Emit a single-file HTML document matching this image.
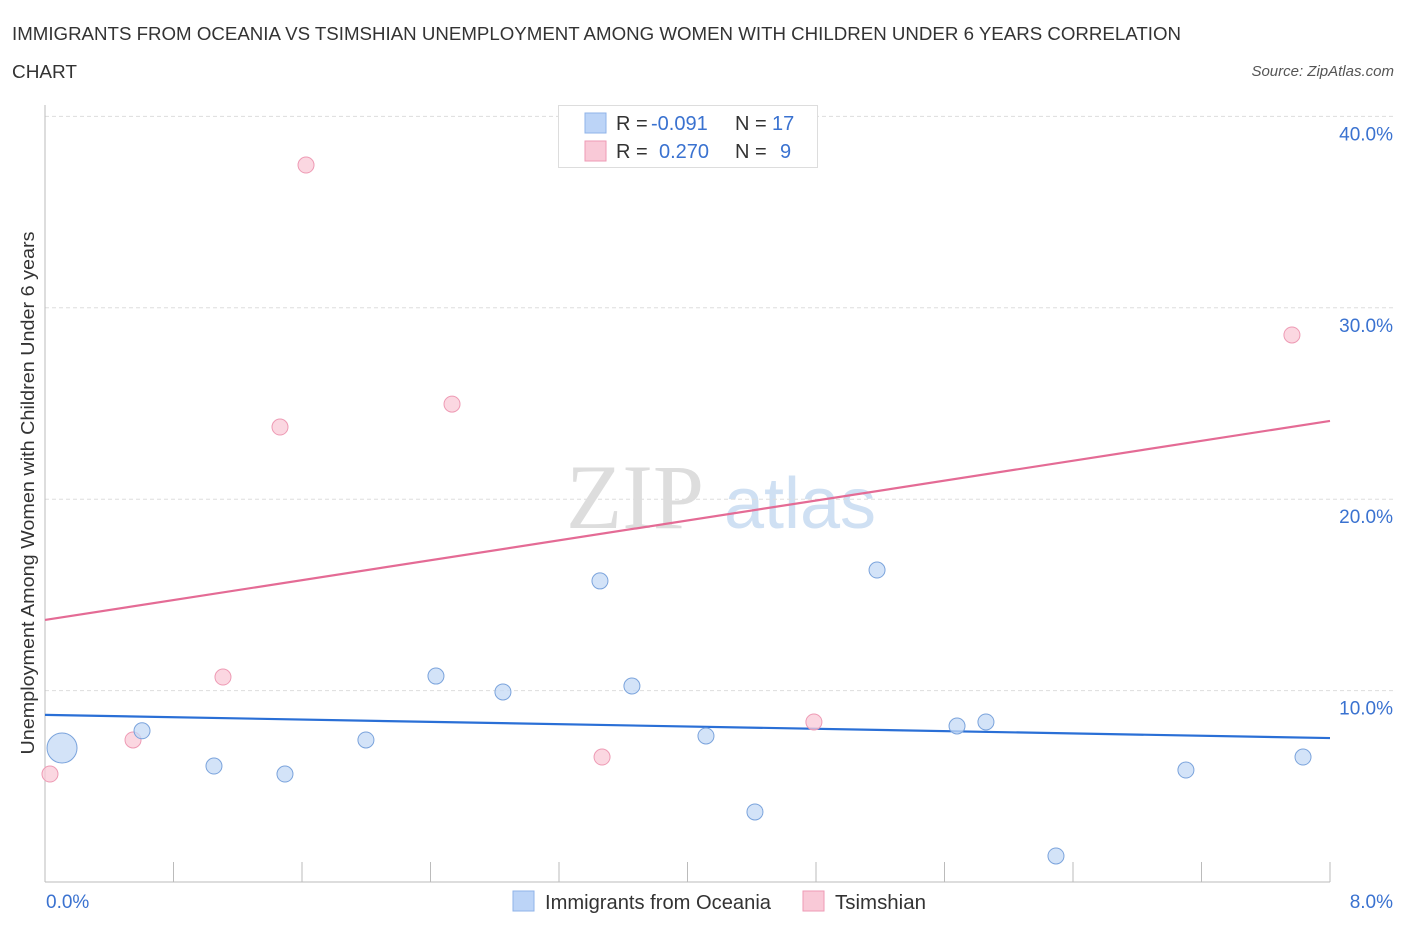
<!DOCTYPE html>
<html><head><meta charset="utf-8"><style>
body{margin:0;background:#fff;font-family:"Liberation Sans",sans-serif}
svg{display:block}
</style></head><body>
<svg id="c" width="1406" height="930" xmlns="http://www.w3.org/2000/svg">
<text x="12" y="40" font-size="18" fill="#333" textLength="1169" lengthAdjust="spacingAndGlyphs">IMMIGRANTS FROM OCEANIA VS TSIMSHIAN UNEMPLOYMENT AMONG WOMEN WITH CHILDREN UNDER 6 YEARS CORRELATION</text>
<text x="12" y="78" font-size="18" fill="#333" textLength="65" lengthAdjust="spacingAndGlyphs">CHART</text>
<text x="1394" y="76" font-size="15" fill="#555" text-anchor="end" font-style="italic">Source: ZipAtlas.com</text>
<text x="635" y="528" font-size="92" fill="#ddd" font-family="Liberation Serif" text-anchor="middle">ZIP</text>
<text x="800" y="528" font-size="72" fill="#cfe0f3" text-anchor="middle">atlas</text>
<g id="grid"></g><g id="axes"></g><g id="lines"></g><g id="pts"></g>
<text transform="translate(34,493) rotate(-90)" font-size="18" fill="#333" text-anchor="middle" textLength="523" lengthAdjust="spacingAndGlyphs">Unemployment Among Women with Children Under 6 years</text>
<text x="46" y="908" font-size="19" fill="#3a72d0">0.0%</text>
<text x="1393" y="908" font-size="19" fill="#3a72d0" text-anchor="end">8.0%</text>
<g>
<rect x="558.5" y="105.5" width="259" height="62" fill="#fff" stroke="#ddd"/>
<rect x="585" y="113" width="21" height="20" fill="#bcd4f7" stroke="#8fb3e8"/>
<rect x="585" y="141" width="21" height="20" fill="#f9c9d7" stroke="#ee9ab4"/>
<text x="616" y="130" font-size="20" fill="#333">R = <tspan x="651" fill="#3a72d0">-0.091</tspan><tspan x="735">N = </tspan><tspan x="772" fill="#3a72d0">17</tspan></text>
<text x="616" y="158" font-size="20" fill="#333">R = <tspan x="659" fill="#3a72d0">0.270</tspan><tspan x="735">N = </tspan><tspan x="780" fill="#3a72d0">9</tspan></text>
</g>
<g>
<rect x="513" y="891" width="21" height="20" fill="#bcd4f7" stroke="#8fb3e8"/>
<text x="545" y="909" font-size="20" fill="#333" textLength="226" lengthAdjust="spacingAndGlyphs">Immigrants from Oceania</text>
<rect x="803" y="891" width="21" height="20" fill="#f9c9d7" stroke="#ee9ab4"/>
<text x="835" y="909" font-size="20" fill="#333" textLength="91" lengthAdjust="spacingAndGlyphs">Tsimshian</text>
</g>
</svg>
<script>
const yTicks=[10,20,30,40];
const yTickLabels=["10.0%","20.0%","30.0%","40.0%"];
const xTicks=[0,0.8,1.6,2.4,3.2,4,4.8,5.6,6.4,7.2,8];
const blueX=[0.106,0.604,1.052,1.494,1.998,2.434,2.851,3.455,3.654,4.115,4.420,5.180,5.678,5.858,6.294,7.103,7.832];
const blueY=[7.0,7.9,6.06,5.64,7.42,10.76,9.93,15.73,10.24,7.63,3.66,16.30,8.15,8.36,1.36,5.85,6.53];
const blueR=[15,8,8,8,8,8,8,8,8,8,8,8,8,8,8,8,8];
const pinkX=[0.031,0.548,1.108,1.463,1.625,2.534,3.468,4.787,7.763];
const pinkY=[5.64,7.42,10.71,23.77,37.46,24.97,6.53,8.36,28.58];
const blueTrend=[8.73,7.52];
const pinkTrend=[13.69,24.09];
const NS='http://www.w3.org/2000/svg';
const X=v=>45+v/8*1285, Y=v=>882-v*19.14;
function mk(t,a,p){const e=document.createElementNS(NS,t);for(const k in a)e.setAttribute(k,a[k]);document.getElementById(p).appendChild(e);return e;}
yTicks.forEach((t,i)=>{
 const l=mk('line',{x1:45,x2:1393,y1:Y(t),y2:Y(t),stroke:'#ddd','stroke-dasharray':'4,3'},'grid');
 
 
 const tx=mk('text',{x:1393,y:Y(t)+24,'font-size':19,fill:'#3a72d0','text-anchor':'end'},'grid');
 tx.textContent=yTickLabels[i];
 
 
});
let a=mk('line',{x1:45,x2:45,y1:105,y2:882,stroke:'#bbb'},'axes');


a=mk('line',{x1:45,x2:1330,y1:882,y2:882,stroke:'#bbb'},'axes');


xTicks.forEach(t=>{const l=mk('line',{x1:X(t),x2:X(t),y1:862,y2:882,stroke:'#bbb'},'axes');
 
 });
let tl=mk('line',{x1:X(0),x2:X(8),y1:Y(blueTrend[0]),y2:Y(blueTrend[1]),stroke:'#2a6fd6','stroke-width':2.2},'lines');


tl=mk('line',{x1:X(0),x2:X(8),y1:Y(pinkTrend[0]),y2:Y(pinkTrend[1]),stroke:'#e46b95','stroke-width':2.2},'lines');


pinkX.forEach((x,i)=>{const c=mk('circle',{cx:X(x),cy:Y(pinkY[i]),r:8,fill:'#f9c9d7','fill-opacity':0.75,stroke:'#ee9ab4'},'pts');
 
 });
blueX.forEach((x,i)=>{const c=mk('circle',{cx:X(x),cy:Y(blueY[i]),r:blueR[i],fill:'#c4d9f5','fill-opacity':0.75,stroke:'#7aa3dc'},'pts');
 
 });
</script>
</body></html>
